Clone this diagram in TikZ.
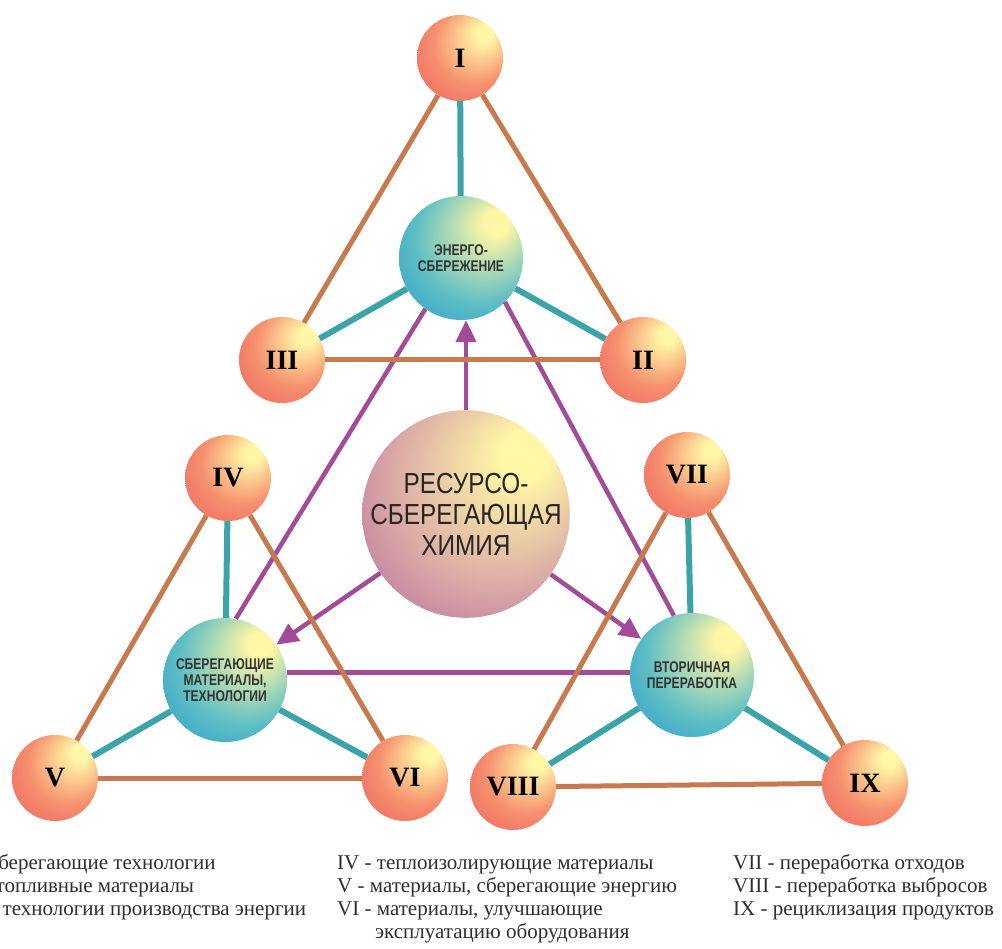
\documentclass[tikz,border=0pt]{standalone}
\usepackage{fontspec}
\setmainfont{Liberation Serif}
\newfontfamily\ballfont{Liberation Sans}[FakeStretch=0.84]
\newfontfamily\topicfont{Liberation Sans Bold}[FakeStretch=0.78]
\usetikzlibrary{arrows.meta}

\definecolor{hilite}{HTML}{FFF6A6}
\definecolor{redmid}{HTML}{F6906E}
\definecolor{redout}{HTML}{EC5A5E}
\definecolor{bluemid}{HTML}{5EBFC4}
\definecolor{blueout}{HTML}{1A8CD2}
\definecolor{violmid}{HTML}{D6A0A6}
\definecolor{violout}{HTML}{A24F92}
\definecolor{rimbrown}{HTML}{C87A4E}
\definecolor{spoketeal}{HTML}{3BA4A8}
\definecolor{linkviolet}{HTML}{A34A98}
\definecolor{legendgray}{HTML}{2E2E2E}

\pgfdeclareradialshading{redball}{\pgfpoint{16bp}{16bp}}{color(0bp)=(hilite); color(5bp)=(hilite); color(24bp)=(redmid); color(44bp)=(redout); color(50bp)=(redout)}
\pgfdeclareradialshading{blueball}{\pgfpoint{16bp}{16bp}}{color(0bp)=(hilite); color(5bp)=(hilite); color(26bp)=(bluemid); color(46bp)=(blueout); color(50bp)=(blueout)}
\pgfdeclareradialshading{violball}{\pgfpoint{16bp}{16bp}}{color(0bp)=(hilite); color(6bp)=(hilite); color(28bp)=(violmid); color(47bp)=(violout); color(50bp)=(violout)}

\begin{document}
\begin{tikzpicture}[x=1pt,y=-1pt,
  numball/.style={circle,minimum size=86pt,inner sep=0pt,shade,shading=redball,
    font=\bfseries\fontsize{28}{28}\selectfont},
  topicball/.style={circle,minimum size=124pt,inner sep=0pt,shade,shading=blueball,
    align=center,text=black!80,font=\topicfont\fontsize{15.5}{16}\selectfont},
  rootball/.style={circle,minimum size=188pt,inner sep=0pt,shade,shading=violball,
    align=center,text=black!85,font=\ballfont\fontsize{29}{31}\selectfont},
  rimline/.style={rimbrown,line width=5pt},
  spokeline/.style={spoketeal,line width=6pt},
  linkline/.style={linkviolet,line width=4.5pt},
  linkarrow/.style={linkviolet,line width=4.5pt,-{Triangle[length=22pt,width=20pt]}},
  legend/.style={anchor=base west,inner sep=0pt,text=legendgray,font=\fontsize{21}{23}\selectfont}]
\useasboundingbox (0,0) rectangle (1002,949);

% spheres
\node[rootball] (res) at (466,514) {РЕСУРСО-\\СБЕРЕГАЮЩАЯ\\ХИМИЯ};
\node[topicball] (energo) at (461,258) {ЭНЕРГО-\\СБЕРЕЖЕНИЕ};
\node[topicball] (sber) at (225,680) {СБЕРЕГАЮЩИЕ\\МАТЕРИАЛЫ,\\ТЕХНОЛОГИИ};
\node[topicball] (vtor) at (692,675) {ВТОРИЧНАЯ\\ПЕРЕРАБОТКА};
\node[numball] (n1) at (460,58) {I};
\node[numball] (n2) at (643,360) {II};
\node[numball] (n3) at (282,360) {III};
\node[numball] (n4) at (228,478) {IV};
\node[numball] (n5) at (55,778) {V};
\node[numball] (n6) at (405,778) {VI};
\node[numball] (n7) at (687,475) {VII};
\node[numball] (n8) at (513,787) {VIII};
\node[numball] (n9) at (865,783) {IX};

% links between the big spheres
\draw[linkline] (energo.235) -- (sber.80);
\draw[linkline] (energo.-45) -- (vtor.107);
\draw[linkline] (sber.7) -- (sber.7 -| vtor.west);
\draw[linkarrow] (res.north) -- (res.north |- energo.south);
\draw[linkarrow] (res) -- (sber);
\draw[linkarrow] (res) -- (vtor);

% triangles
\foreach \a/\b in {n1/n2,n2/n3,n3/n1,n4/n5,n5/n6,n6/n4,n7/n8,n8/n9,n9/n7}
  \draw[rimline] (\a) -- (\b);
\foreach \a/\b in {energo/n1,energo/n2,energo/n3,sber/n4,sber/n5,sber/n6,vtor/n7,vtor/n8,vtor/n9}
  \draw[spokeline] (\a) -- (\b);

% legend
\begin{scope}
\clip (0,0) rectangle (1002,949);
\node[legend] (leg1) at (-36,869) {I - сберегающие технологии};
\node[legend] (leg2) at (-36,892) {II - топливные материалы};
\node[legend] (leg3) at (-36,915) {III - технологии производства энергии};
\end{scope}
\node[legend] (leg4) at (337,869) {IV - теплоизолирующие материалы};
\node[legend] (leg5) at (337,892) {V - материалы, сберегающие энергию};
\node[legend] (leg6) at (337,915) {VI - материалы, улучшающие};
\node[legend] (leg7) at (375,938) {эксплуатацию оборудования};
\node[legend] (leg8) at (733,869) {VII - переработка отходов};
\node[legend] (leg9) at (733,892) {VIII - переработка выбросов};
\node[legend] (leg10) at (733,915) {IX - рециклизация продуктов};
\end{tikzpicture}
\end{document}
